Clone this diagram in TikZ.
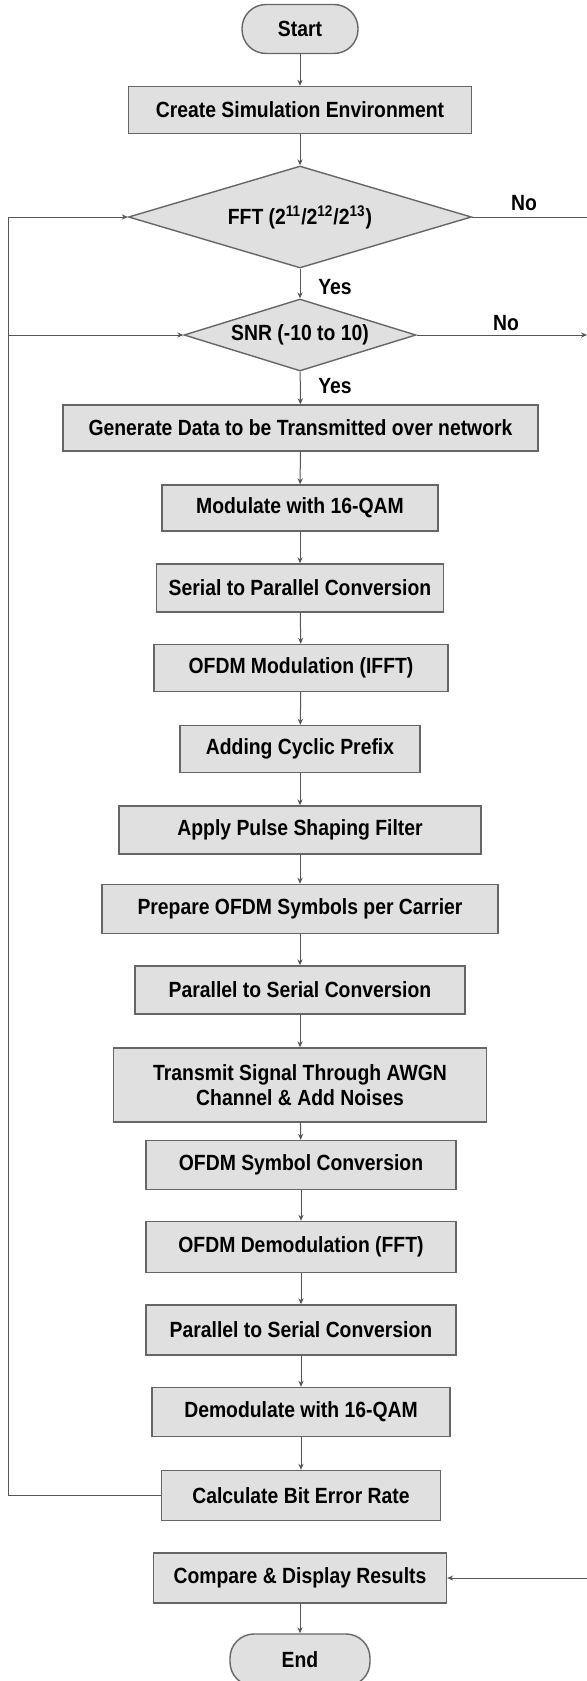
\documentclass[tikz,border=0pt]{standalone}
\usepackage{fontspec}
\setmainfont{Liberation Sans}[FakeStretch=0.88]
\usetikzlibrary{shapes.geometric,arrows.meta}

\definecolor{boxfill}{HTML}{E0E0E0}
\definecolor{boxline}{HTML}{666666}
\definecolor{flowline}{HTML}{555555}

\tikzset{
  flowbox/.style={draw=boxline,fill=boxfill,line width=0.7pt,font=\fontsize{11}{12.5}\selectfont\bfseries,align=center,inner sep=0pt},
  decision/.style={flowbox,diamond,aspect=3},
  terminal/.style={flowbox,rounded corners=12pt},
  answer/.style={font=\fontsize{11}{12.5}\selectfont\bfseries,inner sep=0pt},
  flow/.style={draw=flowline,line width=0.5pt,-{Stealth[length=3pt,width=2.6pt]}},
  plain/.style={draw=flowline,line width=0.5pt}
}

\begin{document}
\begin{tikzpicture}[x=0.5pt,y=-0.5pt]
\useasboundingbox (0,0) rectangle (587,1681);

% main column
\node[terminal,minimum width=58pt,minimum height=24.5pt] (start) at (300,29) {Start};
\node[flowbox,minimum width=171.5pt,minimum height=23.5pt] (create) at (300,110) {Create Simulation Environment};
\node[decision,minimum width=171.5pt,minimum height=51pt] (fft) at (300,217) {FFT (2\textsuperscript{11}/2\textsuperscript{12}/2\textsuperscript{13})};
\node[decision,minimum width=116pt,minimum height=36pt] (snr) at (300,335) {SNR (-10 to 10)};
\node[flowbox,minimum width=237.5pt,minimum height=23pt] (gen) at (300.5,428) {Generate Data to be Transmitted over network};
\node[flowbox,minimum width=138pt,minimum height=23pt] (mod) at (300,508) {Modulate with 16-QAM};
\node[flowbox,minimum width=143.5pt,minimum height=24pt] (sertopar) at (300,588) {Serial to Parallel Conversion};
\node[flowbox,minimum width=147pt,minimum height=23.5pt] (ifft) at (301,668) {OFDM Modulation (IFFT)};
\node[flowbox,minimum width=120pt,minimum height=23.5pt] (prefix) at (300,749) {Adding Cyclic Prefix};
\node[flowbox,minimum width=181pt,minimum height=24pt] (pulse) at (300,830) {Apply Pulse Shaping Filter};
\node[flowbox,minimum width=198pt,minimum height=24.5pt] (prep) at (300,909) {Prepare OFDM Symbols per Carrier};
\node[flowbox,minimum width=165pt,minimum height=24pt] (partoser) at (300,990) {Parallel to Serial Conversion};
\node[flowbox,minimum width=186.5pt,minimum height=37pt] (awgn) at (300,1085) {Transmit Signal Through AWGN\\Channel \& Add Noises};
\node[flowbox,minimum width=155pt,minimum height=24.5pt] (symconv) at (301,1165) {OFDM Symbol Conversion};
\node[flowbox,minimum width=155pt,minimum height=25.5pt] (demodfft) at (301,1247) {OFDM Demodulation (FFT)};
\node[flowbox,minimum width=155pt,minimum height=25pt] (partoser2) at (301,1330) {Parallel to Serial Conversion};
\node[flowbox,minimum width=149pt,minimum height=24.5pt] (demod) at (301,1412) {Demodulate with 16-QAM};
\node[flowbox,minimum width=139.5pt,minimum height=25pt] (ber) at (301,1495.5) {Calculate Bit Error Rate};
\node[flowbox,minimum width=146.5pt,minimum height=25pt] (results) at (300,1578) {Compare \& Display Results};
\node[terminal,minimum width=70pt,minimum height=26pt] (end) at (300,1660) {End};

% yes / no labels
\node[answer] (yesfft) at (335,287) {Yes};
\node[answer] (yessnr) at (335,386) {Yes};
\node[answer] (nofft) at (524,203.5) {No};
\node[answer] (nosnr) at (506,323.5) {No};

% loop coordinates
\coordinate (lbot) at (8,1495.5);
\coordinate (lfft) at (8,217);
\coordinate (lsnr) at (8,335);
\coordinate (rfft) at (587,217);
\coordinate (rsnr) at (587,335);
\coordinate (rres) at (587,1578);

% straight flow
\foreach \a/\b in {start/create,create/fft,fft/snr,snr/gen,gen/mod,mod/sertopar,sertopar/ifft,ifft/prefix,prefix/pulse,pulse/prep,prep/partoser,partoser/awgn,awgn/symconv,symconv/demodfft,demodfft/partoser2,partoser2/demod,demod/ber,results/end}
  \draw[flow] (\a) -- (\b);

% loops back
\draw[flow] (ber.west) -- (lbot) -- (lfft) -- (fft.west);
\draw[flow] (lsnr) -- (snr.west);
\draw[plain] (fft.east) -- (rfft);
\draw[flow] (snr.east) -- (rsnr);
\draw[flow] (rres) -- (results.east);
\end{tikzpicture}
\end{document}
